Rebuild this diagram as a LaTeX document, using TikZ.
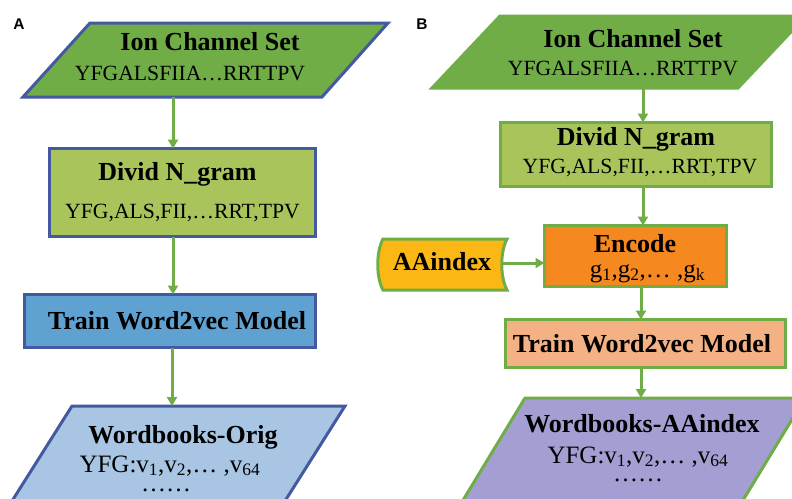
\documentclass[tikz,border=0pt]{standalone}
\usepackage{fontspec}
\setmainfont{Liberation Serif}
\newfontfamily\labfont{Liberation Sans}
\usetikzlibrary{arrows.meta}
\definecolor{gA}{HTML}{70AD47}
\definecolor{olive}{HTML}{A9C45B}
\definecolor{bA}{HTML}{44599F}
\definecolor{trainA}{HTML}{5FA2D2}
\definecolor{wbA}{HTML}{A8C6E4}
\definecolor{encB}{HTML}{F5891F}
\definecolor{aaB}{HTML}{FBB814}
\definecolor{trainB}{HTML}{F4B183}
\definecolor{wbB}{HTML}{A39FD2}
\newcommand{\sbs}[1]{\textsubscript{#1}}
\tikzset{
  arr/.style={draw=gA, line width=3pt, -{Triangle[length=9pt,width=10pt]}},
  ttl/.style={font=\fontsize{26}{30}\selectfont\bfseries, inner sep=0pt, anchor=base},
  seq/.style={font=\fontsize{21.7}{26}\selectfont, inner sep=0pt, anchor=base},
  vecl/.style={font=\fontsize{25}{30}\selectfont, inner sep=0pt, anchor=base},
  vecblock/.style={inner sep=0pt, anchor=base, align=center},
  blueln/.style={draw=bA, line width=3pt, line join=miter},
  greenln/.style={draw=gA, line width=3pt, line join=miter},
  boxrect/.style={rectangle, inner sep=0pt, outer sep=0pt},
  panellab/.style={font=\labfont\fontsize{15.5}{18}\selectfont\bfseries, inner sep=0pt, anchor=base},
}
\begin{document}
\begin{tikzpicture}[x=1pt,y=-1pt]
\useasboundingbox (0,0) rectangle (792,498);
\clip (0,0) rectangle (792,498);
\fill[white] (0,0) rectangle (792,498);

% ---------------- Panel A ----------------
\node[panellab] (labA) at (19,29) {A};

\draw[blueln, fill=gA] (90,23) -- (388,23) -- (322,97) -- (23,97) -- cycle;
\coordinate (ionAb) at (173,97);
\node[ttl] (ionAt) at (210,50) {Ion Channel Set};
\node[seq] (ionAs) at (190,80) {YFGALSFIIA…RRTTPV};

\node[boxrect, blueln, fill=olive, minimum width=266pt, minimum height=88pt] (divA) at (182.5,192.5) {};
\node[ttl] (divAt) at (177.5,180) {Divid N\_gram};
\node[seq] (divAs) at (182.5,218) {YFG,ALS,FII,…RRT,TPV};

\node[boxrect, blueln, fill=trainA, minimum width=291pt, minimum height=53pt] (trA) at (170,321) {};
\node[ttl] (trAt) at (177,329) {Train Word2vec Model};

\draw[blueln, fill=wbA] (72,406) -- (345,406) -- (273,520) -- (0,520) -- cycle;
\coordinate (wbAt) at (172,406);
\node[ttl] (wbAtt) at (183,443) {Wordbooks-Orig};
\node[vecblock, font=\fontsize{25}{19}\selectfont] (wbAv) at (170,491)
  {YFG:v\sbs{1},v\sbs{2},… ,v\sbs{64}\\ ……\hspace*{8pt}};

\draw[arr] (ionAb) -- (ionAb |- divA.north);
\draw[arr] (ionAb |- divA.south) -- (ionAb |- trA.north);
\draw[arr] (wbAt |- trA.south) -- (wbAt);

% ---------------- Panel B ----------------
\node[panellab] (labB) at (422,29) {B};

\draw[greenln, fill=gA] (500,16) -- (806,16) -- (738,88) -- (432,88) -- cycle;
\coordinate (ionBb) at (643,88);
\node[ttl] (ionBt) at (633,47) {Ion Channel Set};
\node[seq] (ionBs) at (623,75) {YFGALSFIIA…RRTTPV};

\node[boxrect, greenln, fill=olive, minimum width=271pt, minimum height=64pt] (divB) at (636,154.5) {};
\node[ttl] (divBt) at (636,145) {Divid N\_gram};
\node[seq] (divBs) at (640,173) {YFG,ALS,FII,…RRT,TPV};

\node[boxrect, greenln, fill=encB, minimum width=182pt, minimum height=61pt] (encB) at (635.5,256) {};
\node[ttl] (encBt) at (635,252) {Encode};
\node[vecl] (encBs) at (647.5,277) {g\sbs{1},g\sbs{2},… ,g\sbs{k}};

\draw[greenln, fill=aaB] (383,239) -- (507,239) .. controls (500,252) and (500,277) .. (507,290)
  -- (383,290) .. controls (376,277) and (376,252) .. (383,239) -- cycle;
\coordinate (aaR) at (502,263);
\node[ttl] (aaT) at (442,270) {AAindex};

\node[boxrect, greenln, fill=trainB, minimum width=280pt, minimum height=48pt] (trB) at (645.5,343.5) {};
\node[ttl] (trBt) at (642,352) {Train Word2vec Model};

\draw[greenln, fill=wbB] (525,398) -- (805,398) -- (731,520) -- (451,520) -- cycle;
\coordinate (wbBt) at (641,398);
\node[ttl] (wbBtt) at (642,432) {Wordbooks-AAindex};
\node[vecblock, font=\fontsize{25}{18}\selectfont] (wbBv) at (638,481)
  {YFG:v\sbs{1},v\sbs{2},… ,v\sbs{64}\\ ……};

\draw[arr] (ionBb) -- (ionBb |- divB.north);
\draw[arr] (ionBb |- divB.south) -- (ionBb |- encB.north);
\draw[arr] (aaR) -- (aaR -| encB.west);
\draw[arr] (wbBt |- encB.south) -- (wbBt |- trB.north);
\draw[arr] (wbBt |- trB.south) -- (wbBt);
\end{tikzpicture}
\end{document}
